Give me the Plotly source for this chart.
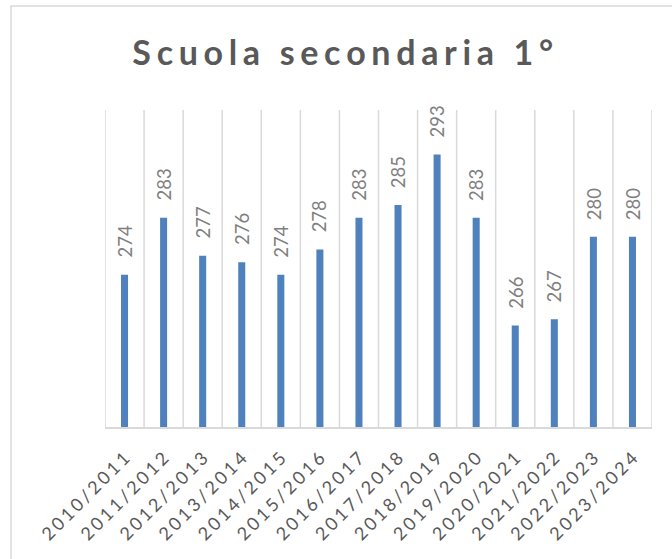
import plotly.graph_objects as go

categories = ["2010/2011", "2011/2012", "2012/2013", "2013/2014", "2014/2015",
              "2015/2016", "2016/2017", "2017/2018", "2018/2019", "2019/2020",
              "2020/2021", "2021/2022", "2022/2023", "2023/2024"]
values = [274, 283, 277, 276, 274, 278, 283, 285, 293, 283, 266, 267, 280, 280]
title_text = "Scuola secondaria 1°"

FONT = "Lato, 'Open Sans', sans-serif"
GRID = "#d9d9d9"
SIXEM = "\u2006"

fig = go.Figure()
fig.add_trace(go.Bar(
    x=categories, y=values, width=0.18,
    marker=dict(color="#4F81BD", line=dict(width=0)),
    hoverinfo="x+y",
))

for c, v in zip(categories, values):
    fig.add_annotation(
        x=c, y=v, text=str(v), textangle=-90, showarrow=False,
        xanchor="center", yanchor="bottom", yshift=15,
        font=dict(family=FONT, size=18.5, color="#7f7f7f"),
    )

spaced_title = SIXEM.join(list(title_text))
spaced_ticks = [SIXEM.join(list(c)) for c in categories]

# vertical separators between categories (category boundaries)
shapes = []
for k in range(len(categories) + 1):
    shapes.append(dict(type="line", xref="x", yref="paper", x0=k - 0.5, x1=k - 0.5,
                       y0=0, y1=1, line=dict(color=GRID, width=1.5), layer="below"))
shapes.append(dict(type="rect", xref="paper", yref="paper", x0=-0.1718, x1=1.06,
                   y0=-0.45, y1=1.328, line=dict(color=GRID, width=1.5), layer="below"))

fig.update_layout(
    width=672, height=559,
    margin=dict(l=105, r=20, t=110, b=132),
    paper_bgcolor="white", plot_bgcolor="white",
    showlegend=False,
    title=dict(text=spaced_title, x=0.51, xanchor="center", y=0.905, yanchor="middle",
               xref="container", yref="container",
               font=dict(family=FONT, size=34, color="#595959", weight="bold")),
    xaxis=dict(
        type="category", showgrid=False,
        showline=True, linecolor=GRID, linewidth=1.5,
        ticks="outside", ticklen=12, tickcolor="rgba(0,0,0,0)", tickangle=-45,
        tickvals=categories, ticktext=spaced_ticks,
        tickfont=dict(family=FONT, size=18, color="#595959"),
        range=[-0.5, 13.5],
    ),
    yaxis=dict(range=[250, 300], visible=False, showgrid=False, zeroline=False),
    shapes=shapes,
)

fig.write_html("out.html", config={"displayModeBar": False},
               post_script="document.body.style.margin='0';")
